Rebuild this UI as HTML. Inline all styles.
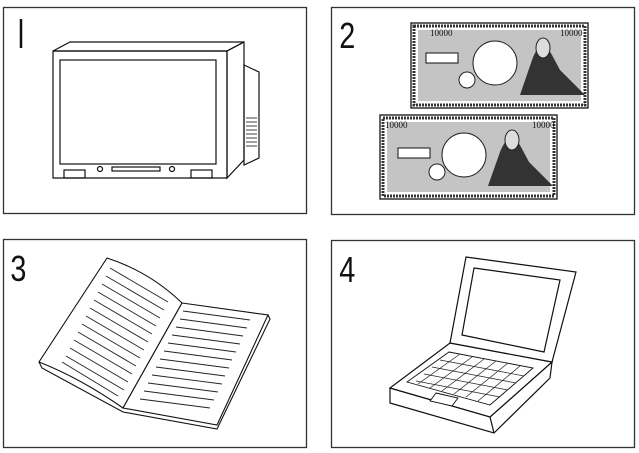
<!DOCTYPE html>
<html><head><meta charset="utf-8"><style>
html,body{margin:0;padding:0;background:#fff;}
svg{display:block}
text{font-family:"Liberation Sans",sans-serif;font-size:36px;fill:#111}
</style></head><body>
<svg width="639" height="453" viewBox="0 0 639 453" xmlns="http://www.w3.org/2000/svg">
<g fill="none" stroke="#333" stroke-width="1.3">
<rect x="3.5" y="7.5" width="303" height="206"/>
<rect x="331.5" y="7.5" width="303" height="207"/>
<rect x="3.5" y="239.5" width="303" height="208"/>
<rect x="331.5" y="240.5" width="303" height="207"/>
</g>
<line x1="21" y1="19" x2="21" y2="48" stroke="#111" stroke-width="2.5"/>
<g transform="scale(0.8,1)">
<text x="424" y="48">2</text>
<text x="13" y="281">3</text>
<text x="424" y="282">4</text>
</g>
<!-- TV -->
<g fill="none" stroke="#111" stroke-width="1.2">
<polygon points="53,51 227,51 227,178 53,178"/>
<polygon points="53,51 70,42 244,42 227,51"/>
<polygon points="227,51 244,42 244,160 227,178"/>
<polygon points="244,65 259,72 259,158 244,165"/>
<rect x="60" y="60" width="156" height="104"/>
<rect x="64" y="170" width="21" height="8"/>
<rect x="191" y="170" width="21" height="8"/>
<rect x="112" y="167" width="48" height="4"/>
<circle cx="100" cy="169" r="2.5"/><circle cx="172" cy="169" r="2.5"/>
<g stroke-width="0.8"><line x1="246" y1="118" x2="257" y2="118"/><line x1="246" y1="122" x2="257" y2="122"/><line x1="246" y1="126" x2="257" y2="126"/><line x1="246" y1="130" x2="257" y2="130"/><line x1="246" y1="134" x2="257" y2="134"/><line x1="246" y1="138" x2="257" y2="138"/><line x1="246" y1="142" x2="257" y2="142"/><line x1="246" y1="146" x2="257" y2="146"/></g>
</g>
<!-- bills -->
<g>
<rect x="411" y="23" width="177" height="85" fill="#fff" stroke="#111" stroke-width="1.3"/>
<rect x="414" y="26" width="171" height="79" fill="none" stroke="#333" stroke-width="3" stroke-dasharray="2 1"/>
<rect x="418" y="30" width="163" height="71" fill="#c4c4c4"/>
<circle cx="495" cy="63" r="22" fill="#fff" stroke="#222"/>
<circle cx="467" cy="80" r="8" fill="#fff" stroke="#222"/>
<path d="M520,95 L532,60 Q541,35 552,55 L560,70 L585,95 Z" fill="#333"/>
<ellipse cx="543" cy="48" rx="7" ry="10" fill="#ddd" stroke="#222"/>
<rect x="426" y="53" width="32" height="10" fill="#fff" stroke="#111"/>
<text x="430" y="36" style="font-size:9px;font-family:'Liberation Serif',serif">10000</text>
<text x="560" y="36" style="font-size:9px;font-family:'Liberation Serif',serif">10000</text>

<rect x="380" y="115" width="177" height="84" fill="#fff" stroke="#111" stroke-width="1.3"/>
<rect x="383" y="118" width="171" height="78" fill="none" stroke="#333" stroke-width="3" stroke-dasharray="2 1"/>
<rect x="387" y="122" width="163" height="70" fill="#c4c4c4"/>
<circle cx="464" cy="155" r="22" fill="#fff" stroke="#222"/>
<circle cx="437" cy="172" r="8" fill="#fff" stroke="#222"/>
<path d="M488,186 L500,152 Q510,127 521,147 L529,162 L553,186 Z" fill="#333"/>
<ellipse cx="512" cy="140" rx="7" ry="10" fill="#ddd" stroke="#222"/>
<rect x="398" y="148" width="32" height="10" fill="#fff" stroke="#111"/>
<text x="385" y="128" style="font-size:9px;font-family:'Liberation Serif',serif">10000</text>
<text x="532" y="128" style="font-size:9px;font-family:'Liberation Serif',serif">10000</text>
</g>
<!-- book -->
<g fill="#fff" stroke="#111" stroke-width="1.1">
<path d="M39,362 L42,368 L123,412 L217,429 L270,319 L268,315"/>
<path d="M107,258 Q150,272 182,303 L123,408 Q80,378 39,362 Z"/>
<path d="M182,303 L268,315 L217,425 L123,408 Z"/>
</g>
<g stroke="#222" stroke-width="0.9">
<line x1="110" y1="268" x2="168" y2="302"/><line x1="106" y1="276" x2="164" y2="310"/><line x1="102" y1="284" x2="160" y2="318"/><line x1="98" y1="292" x2="156" y2="326"/><line x1="94" y1="300" x2="152" y2="334"/><line x1="90" y1="308" x2="148" y2="342"/><line x1="86" y1="316" x2="144" y2="350"/><line x1="82" y1="324" x2="140" y2="358"/><line x1="78" y1="332" x2="136" y2="366"/><line x1="74" y1="340" x2="132" y2="374"/><line x1="70" y1="348" x2="128" y2="382"/><line x1="66" y1="356" x2="124" y2="390"/><line x1="62" y1="362" x2="118" y2="396"/>
<line x1="183" y1="311" x2="250" y2="320"/><line x1="180" y1="319" x2="247" y2="328"/><line x1="176" y1="327" x2="243" y2="336"/><line x1="172" y1="335" x2="240" y2="344"/><line x1="168" y1="343" x2="236" y2="352"/><line x1="164" y1="351" x2="232" y2="360"/><line x1="160" y1="359" x2="229" y2="368"/><line x1="156" y1="367" x2="225" y2="376"/><line x1="152" y1="375" x2="222" y2="384"/><line x1="148" y1="383" x2="218" y2="392"/><line x1="144" y1="391" x2="214" y2="400"/><line x1="140" y1="399" x2="210" y2="408"/>
</g>
<!-- laptop -->
<g fill="#fff" stroke="#111" stroke-width="1.2">
<polygon points="390,388 390,403 494,433 550,378 552,362 490,417"/>
<line x1="490" y1="417" x2="494" y2="433"/>
<polygon points="450,343 552,362 490,417 390,388"/>
<polygon points="466,257 576,272 552,362 450,343"/>
<polygon points="474,268 560,280 544,352 462,335"/>
<polygon points="449,352 533,368 490,405 407,382" stroke-width="0.9"/>
<polygon points="436,393 458,398 452,406 430,401" stroke-width="0.9"/>
</g>
<g stroke="#222" stroke-width="0.7">
<line x1="440" y1="360" x2="524" y2="376"/><line x1="432" y1="367" x2="516" y2="383"/><line x1="424" y1="374" x2="508" y2="390"/><line x1="416" y1="381" x2="500" y2="397"/>
<line x1="460" y1="354" x2="418" y2="384"/><line x1="472" y1="357" x2="430" y2="388"/><line x1="484" y1="359" x2="442" y2="391"/><line x1="496" y1="361" x2="454" y2="394"/><line x1="508" y1="363" x2="466" y2="397"/><line x1="520" y1="366" x2="478" y2="401"/>
</g>
</svg>
</body></html>
